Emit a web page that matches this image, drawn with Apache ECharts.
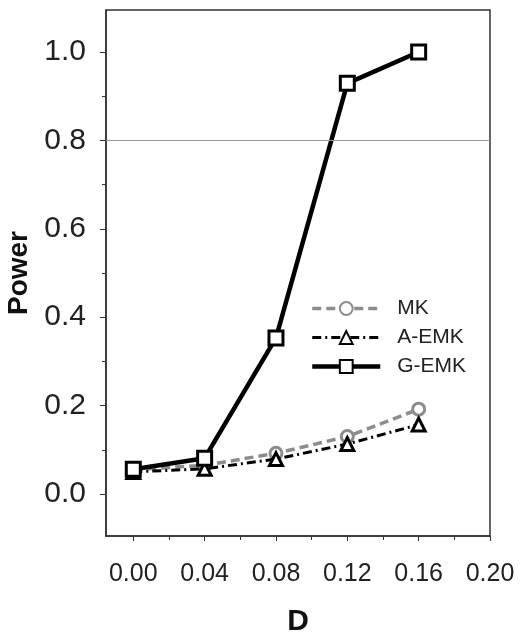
<!DOCTYPE html>
<html>
<head>
<meta charset="utf-8">
<script src="https://cdn.jsdelivr.net/npm/echarts@6/dist/echarts.min.js"></script>
<style>
  html, body { margin: 0; padding: 0; background: #fff; }
  #chart { width: 521px; height: 637px; }
</style>
</head>
<body>
<div id="chart"></div>
<script>
const dValues = [0.00, 0.04, 0.08, 0.12, 0.16]
const mkPower = [0.055, 0.065, 0.092, 0.13, 0.192]
const aEmkPower = [0.05, 0.057, 0.079, 0.113, 0.157]
const gEmkPower = [0.056, 0.081, 0.353, 0.929, 1.0]
const xTicks = [0.00, 0.04, 0.08, 0.12, 0.16, 0.20]
const xMinorTicks = [0.02, 0.06, 0.10, 0.14, 0.18]
const yTicks = [0.0, 0.2, 0.4, 0.6, 0.8, 1.0]
const yMinorTicks = [0.1, 0.3, 0.5, 0.7, 0.9]
const refLine = 0.8

const font = '"Liberation Sans", Arial, sans-serif'
const chart = echarts.init(document.getElementById('chart'))

const pairs = (ys) => dValues.map((x, i) => [x, ys[i]])

const mkLine = { color: '#8c8c8c', width: 3.5, type: [9, 5] }
const aLine = { color: '#000', width: 3, type: [9, 4, 2, 4] }
const gLine = { color: '#000', width: 4.5 }

const xMin = -0.0153, xMax = 0.2
const yMin = -0.095, yMax = 1.095

const option = {
  animation: false,
  grid: {
    left: 106, right: 31, top: 10, bottom: 101,
    outerBoundsMode: 'none',
    show: true, borderColor: '#333', borderWidth: 1.5
  },
  legend: {
    orient: 'vertical',
    left: 310, top: 298, padding: 0,
    itemWidth: 68, itemHeight: 16, itemGap: 8,
    textStyle: { fontFamily: font, fontSize: 21, color: '#222', padding: [0, 0, 0, 12] },
    data: [
      { name: 'MK', lineStyle: mkLine },
      { name: 'A-EMK', lineStyle: aLine },
      { name: 'G-EMK', lineStyle: gLine }
    ]
  },
  xAxis: [
    {
      type: 'value', min: xMin, max: xMax,
      name: 'D', nameLocation: 'middle', nameGap: 71,
      nameTextStyle: { fontFamily: font, fontSize: 30, fontWeight: 'bold', color: '#111' },
      axisLine: { onZero: false, lineStyle: { color: '#333', width: 1.5 } },
      axisTick: { customValues: xTicks, length: 5, lineStyle: { color: '#333' } },
      axisLabel: {
        customValues: xTicks, margin: 26,
        fontFamily: font, fontSize: 25, color: '#222',
        formatter: (v) => v.toFixed(2)
      },
      splitLine: { show: false }
    },
    {
      type: 'value', min: xMin, max: xMax, position: 'bottom',
      axisLine: { show: false, onZero: false },
      axisTick: { customValues: xMinorTicks, length: 4, lineStyle: { color: '#333' } },
      axisLabel: { show: false },
      splitLine: { show: false }
    }
  ],
  yAxis: [
    {
      type: 'value', min: yMin, max: yMax,
      name: 'Power', nameLocation: 'middle', nameGap: 67,
      nameTextStyle: { fontFamily: font, fontSize: 28, fontWeight: 'bold', color: '#111' },
      axisLine: { show: true, onZero: false, lineStyle: { color: '#333', width: 1.5 } },
      axisTick: { show: true, customValues: yTicks, length: 6, lineStyle: { color: '#333' } },
      axisLabel: {
        customValues: yTicks, margin: 20,
        fontFamily: font, fontSize: 30, color: '#222',
        formatter: (v) => v.toFixed(1)
      },
      splitLine: { show: false }
    },
    {
      type: 'value', min: yMin, max: yMax, position: 'left',
      axisLine: { show: false, onZero: false },
      axisTick: { show: true, customValues: yMinorTicks, length: 4, lineStyle: { color: '#333' } },
      axisLabel: { show: false },
      splitLine: { show: false }
    }
  ],
  series: [
    {
      name: 'MK', type: 'line', data: pairs(mkPower),
      symbol: 'circle', symbolSize: 12,
      lineStyle: mkLine,
      itemStyle: { color: '#fff', borderColor: '#8c8c8c', borderWidth: 3 },
      z: 2
    },
    {
      name: 'A-EMK', type: 'line', data: pairs(aEmkPower),
      symbol: 'triangle', symbolSize: 13,
      lineStyle: aLine,
      itemStyle: { color: '#fff', borderColor: '#000', borderWidth: 3 },
      z: 3
    },
    {
      name: 'G-EMK', type: 'line', data: pairs(gEmkPower),
      symbol: 'rect', symbolSize: 14,
      lineStyle: gLine,
      itemStyle: { color: '#fff', borderColor: '#000', borderWidth: 3 },
      markLine: {
        silent: true, symbol: 'none', label: { show: false },
        lineStyle: { color: '#999', width: 1, type: 'solid' },
        data: [{ yAxis: refLine }]
      },
      z: 4
    }
  ]
}

chart.setOption(option)
</script>
</body>
</html>
